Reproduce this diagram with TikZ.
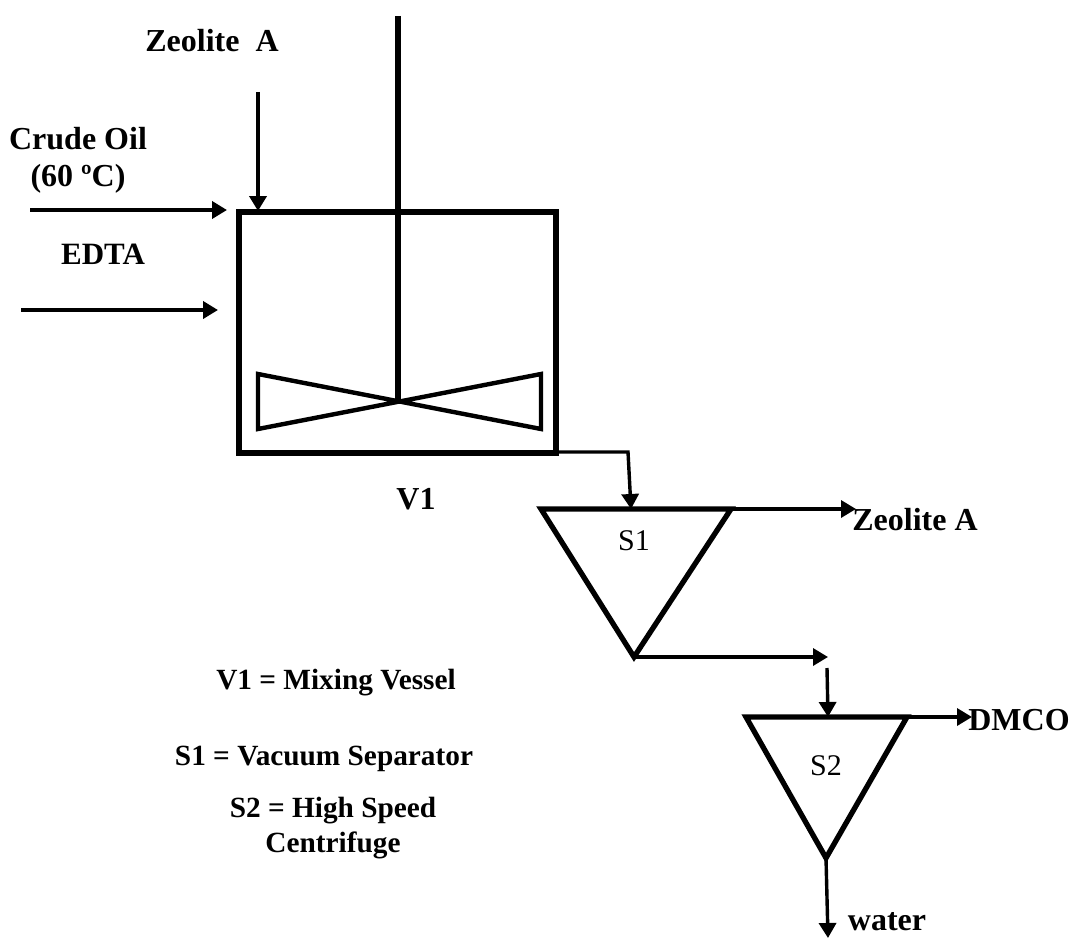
\documentclass[tikz,border=0pt]{standalone}
\usepackage{fontspec}
\setmainfont{Liberation Serif}
\usetikzlibrary{arrows.meta}
\newcommand{\lab}{\fontsize{32}{37}\selectfont\bfseries}
\newcommand{\keyf}{\fontsize{29.3}{35}\selectfont\bfseries}
\newcommand{\plain}{\fontsize{30}{36}\selectfont}
\tikzset{
  x=1pt,y=-1pt,
  heavy/.style={draw=black,line width=5.3pt,line join=miter},
  blade/.style={draw=black,line width=4.4pt,line join=miter},
  flow/.style={draw=black,line width=3.4pt,-{Triangle[length=15pt,width=17pt]}},
  flowthick/.style={flow,line width=4pt},
  lbl/.style={inner sep=0pt,align=center,font=\lab},
  keylbl/.style={inner sep=0pt,align=center,font=\keyf},
  lblp/.style={inner sep=0pt,align=center,font=\plain},
}
\begin{document}
\begin{tikzpicture}
\useasboundingbox (0,0) rectangle (1070,939);
% vessel
\coordinate (vTL) at (239,212);
\coordinate (vTR) at (556,212);
\coordinate (vBR) at (556,453);
\coordinate (vBL) at (239,453);
\draw[heavy] (vTL) -- (vTR) -- (vBR) -- (vBL) -- cycle;
\coordinate (shaftTop) at (398,16);
\coordinate (hub) at (398,401);
\draw[heavy] (shaftTop) -- (hub);
\coordinate (i1) at (258,374);
\coordinate (i2) at (541,429);
\coordinate (i3) at (541,374);
\coordinate (i4) at (258,429);
\draw[blade] (i1) -- (i2) -- (i3) -- (i4) -- cycle;
% separators
\coordinate (s1L) at (541,509);
\coordinate (s1R) at (731,509);
\coordinate (s1B) at (634,657);
\draw[heavy] (s1L) -- (s1R) -- (s1B) -- cycle;
\coordinate (s2L) at (746,717);
\coordinate (s2R) at (907,717);
\coordinate (s2B) at (826,858);
\draw[heavy] (s2L) -- (s2R) -- (s2B) -- cycle;
% free ends
\coordinate (zeoIn) at (258,92);
\coordinate (zeoTip) at (258,211);
\coordinate (oilIn) at (30,210);
\coordinate (oilTip) at (227,210);
\coordinate (edtaIn) at (21,310);
\coordinate (edtaTip) at (218,310);
\coordinate (outA) at (556,452);
\coordinate (outB) at (628,452);
\coordinate (outC) at (631,509);
\coordinate (s1Tip) at (828,657);
\coordinate (s2In) at (827,668);
\coordinate (s2Top) at (828,717);
\coordinate (zeoOutTip) at (856,509);
\coordinate (dmcoTip) at (972,717);
\coordinate (waterTip) at (828,938);
\draw[flowthick] (zeoIn) -- (zeoTip);
\draw[flowthick] (oilIn) -- (oilTip);
\draw[flowthick] (edtaIn) -- (edtaTip);
\draw[flow] (outA) -- (outB) -- (outC);
\draw[flow] (s1B) -- (s1Tip);
\draw[flow] (s2In) -- (s2Top);
\draw[flow] (s1R) -- (zeoOutTip);
\draw[flow] (s2R) -- (dmcoTip);
\draw[flow] (s2B) -- (waterTip);
% labels
\node[lbl] (tZeo) at (212,41) {Zeolite\ \ A};
\node[lbl] (tOil) at (78,160) {Crude Oil\\(60 ºC)};
\node[keylbl,font=\fontsize{31}{36}\selectfont\bfseries] (tEdta) at (103,254) {EDTA};
\node[lbl] (tV1) at (416,499) {V1};
\node[lblp] (tS1) at (634,541) {S1};
\node[lblp] (tS2) at (826,766) {S2};
\node[lbl] (tZeoOut) at (915,520) {Zeolite A};
\node[lbl] (tDmco) at (1019,720) {DMCO};
\node[lbl] (tWater) at (887,922) {water};
\node[keylbl] (k1) at (336,683) {V1 = Mixing Vessel};
\node[keylbl] (k2) at (324,759) {S1 = Vacuum Separator};
\node[keylbl] (k3) at (333,828) {S2 = High Speed\\Centrifuge};
\end{tikzpicture}
\end{document}
